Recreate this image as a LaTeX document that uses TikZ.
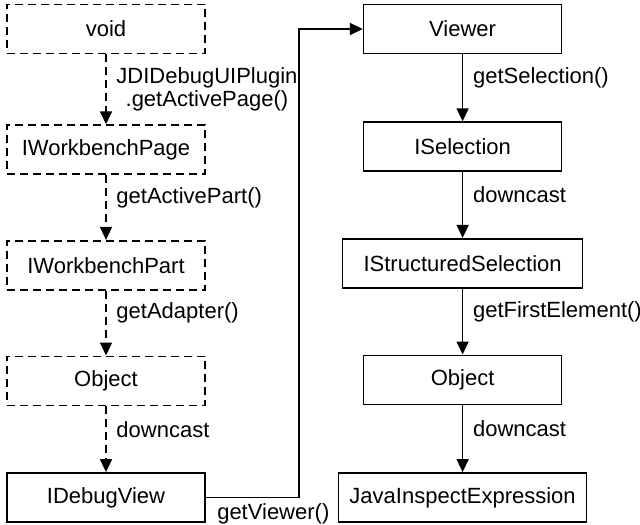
\documentclass[tikz,border=0pt]{standalone}
\usepackage{fontspec}
\setmainfont{Liberation Sans}
\usetikzlibrary{arrows.meta,positioning}
\tikzset{
  typebox/.style={draw,line width=0.8pt,minimum width=99pt,minimum height=24.5pt,
                  inner sep=2pt,align=center},
  guessbox/.style={typebox,dash pattern=on 4pt off 2.5pt},
  arrow/.style={-{Triangle[length=6.5pt,width=6pt]},line width=0.8pt},
  dasharrow/.style={arrow,dash pattern=on 4pt off 2.5pt},
  calllabel/.style={anchor=west,pos=0.35,xshift=1.5pt,align=center}
}

\begin{document}
\begin{tikzpicture}[font=\fontsize{11pt}{11.5pt}\selectfont]
  \useasboundingbox (0,0) rectangle (320pt,-262pt);
  % left column
  \node[guessbox] (void) at (53pt,-14.5pt) {void};
  \node[guessbox,below=35pt of void] (page) {IWorkbenchPage};
  \node[guessbox,below=32.5pt of page] (part) {IWorkbenchPart};
  \node[guessbox,below=32.5pt of part] (leftobj) {Object};
  \node[typebox,below=33pt of leftobj] (debugview) {IDebugView};
  \draw[dasharrow] (void) -- node[calllabel,pos=0.5,xshift=0pt]
    {JDIDebugUIPlugin\\.getActivePage()} (page);
  \draw[dasharrow] (page) -- node[calllabel] {getActivePart()} (part);
  \draw[dasharrow] (part) -- node[calllabel] {getAdapter()} (leftobj);
  \draw[dasharrow] (leftobj) -- node[calllabel] {downcast} (debugview);

  % right column
  \node[typebox,right=78.5pt of void] (viewer) {Viewer};
  \node[typebox,below=33.5pt of viewer] (selection) {ISelection};
  \node[typebox,minimum width=120pt,below=33pt of selection] (structsel)
    {IStructuredSelection};
  \node[typebox,below=33pt of structsel] (rightobj) {Object};
  \node[typebox,minimum width=124pt,below=33.5pt of rightobj] (inspectexpr)
    {JavaInspectExpression};
  \draw[arrow] (viewer) -- node[calllabel] {getSelection()} (selection);
  \draw[arrow] (selection) -- node[calllabel] {downcast} (structsel);
  \draw[arrow] (structsel) -- node[calllabel] {getFirstElement()} (rightobj);
  \draw[arrow] (rightobj) -- node[calllabel] {downcast} (inspectexpr);

  % crossing over
  \draw[arrow] (debugview.east) -- node[pos=0,anchor=north west,xshift=2pt,yshift=0.5pt]
    {getViewer()} ++(46.5pt,0) |- (viewer.west);
\end{tikzpicture}
\end{document}
